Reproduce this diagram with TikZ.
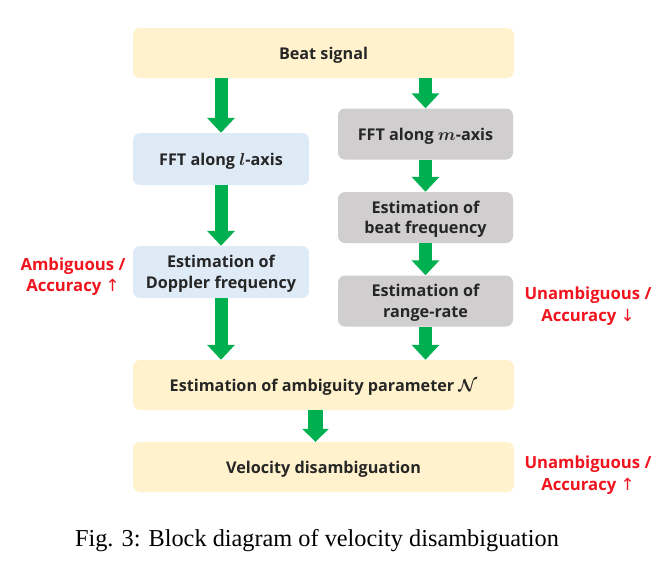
\documentclass[tikz,border=0pt]{standalone}
\usepackage{fontspec}
\setmainfont{Liberation Serif}
\newfontfamily\boxfont{Open Sans}
\newfontfamily\symfont{DejaVu Sans}
\usetikzlibrary{arrows.meta}
\definecolor{ylw}{HTML}{FFF2CC}
\definecolor{blu}{HTML}{DEEBF7}
\definecolor{gry}{HTML}{D0CECE}
\definecolor{grn}{HTML}{00B050}
\definecolor{redtxt}{HTML}{F0141E}
\tikzset{
  blk/.style={rounded corners=7pt, inner sep=2pt, align=center, text depth=0pt,
    font=\boxfont\fontsize{16.2}{20.5}\selectfont\bfseries\boldmath, text=black!85},
  yblk/.style={blk, fill=ylw, minimum width=381pt, minimum height=50pt},
  bblk/.style={blk, fill=blu, minimum width=176pt, minimum height=52pt},
  gblk/.style={blk, fill=gry, minimum width=175pt, minimum height=51pt},
  garrow/.style={draw=grn, line width=13pt,
    -{Triangle[width=27pt,length=15pt]}},
  garrowb/.style={draw=grn, line width=15pt,
    -{Triangle[width=26pt,length=13pt]}},
  note/.style={align=center, text=redtxt,
    font=\boxfont\fontsize{16.7}{21.5}\selectfont\bfseries}
}
\begin{document}
\begin{tikzpicture}[x=1pt,y=-1pt]
\useasboundingbox (0,0) rectangle (663,568);
\node[yblk] (beat) at (323.5,53) {Beat signal};
\node[bblk] (fftl) at (221,159) {FFT along $l$-axis};
\node[bblk] (dopp) at (221,272) {Estimation of\\Doppler frequency};
\node[gblk] (fftm) at (425.5,134) {FFT along $m$-axis};
\node[gblk] (beatf) at (425.5,217.5) {Estimation of\\beat frequency};
\node[gblk] (rr) at (425.5,301) {Estimation of\\range-rate};
\node[yblk] (amb) at (323.5,385) {Estimation of ambiguity parameter $\mathcal{N}$};
\node[yblk] (vel) at (323.5,467) {Velocity disambiguation};

\draw[garrow] (fftl |- beat.south) -- (fftl.north);
\draw[garrow] (fftl.south) -- (dopp.north);
\draw[garrow] (dopp.south) -- (dopp |- amb.north);
\draw[garrow] (fftm |- beat.south) -- (fftm.north);
\draw[garrow] (fftm.south) -- (beatf.north);
\draw[garrow] (beatf.south) -- (rr.north);
\draw[garrow] (rr.south) -- (rr |- amb.north);
\draw[garrowb] ([xshift=-8pt]amb.south) -- ([xshift=-8pt]vel.north);

\node[note] (n1) at (73,276.5) {Ambiguous /\\Accuracy {\symfont\mdseries ↑}};
\node[note] (n2) at (588,306) {Unambiguous /\\Accuracy {\symfont\mdseries ↓}};
\node[note] (n3) at (588,475) {Unambiguous /\\Accuracy {\symfont\mdseries ↑}};

\node[font=\fontsize{24.3}{28}\selectfont] (cap) at (317,541) {Fig. 3: Block diagram of velocity disambiguation};
\end{tikzpicture}
\end{document}
